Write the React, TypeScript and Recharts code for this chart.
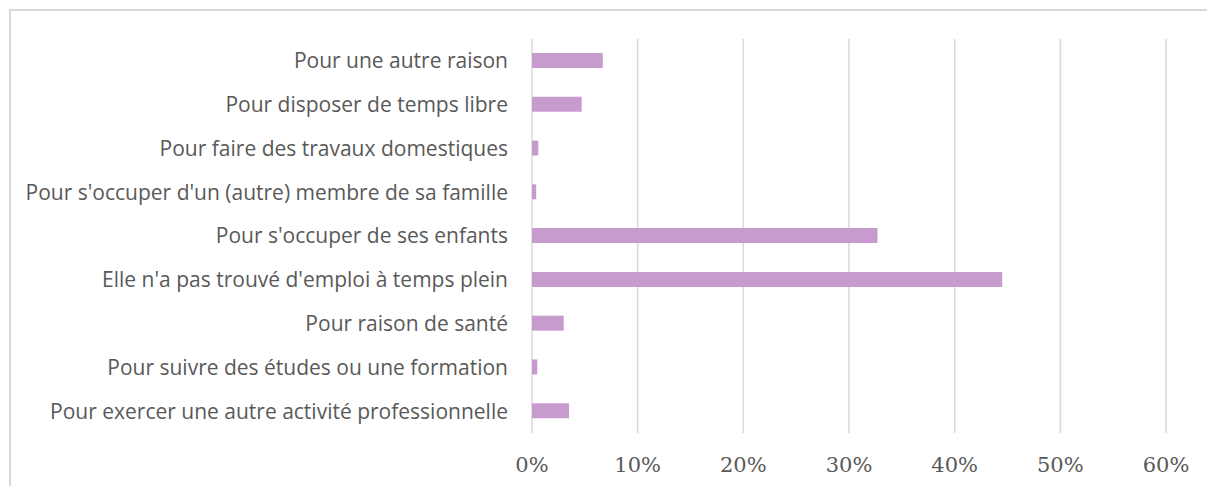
import { BarChart, Bar, XAxis, YAxis, CartesianGrid } from 'recharts'

const categories = [
  'Pour une autre raison',
  'Pour disposer de temps libre',
  'Pour faire des travaux domestiques',
  "Pour s'occuper d'un (autre) membre de sa famille",
  "Pour s'occuper de ses enfants",
  "Elle n'a pas trouvé d'emploi à temps plein",
  'Pour raison de santé',
  'Pour suivre des études ou une formation',
  'Pour exercer une autre activité professionnelle',
]

const shares = [0.067, 0.047, 0.006, 0.004, 0.327, 0.445, 0.03, 0.005, 0.035]

const xTicks = [0, 0.1, 0.2, 0.3, 0.4, 0.5, 0.6]

const data = categories.map((name, i) => ({ name, value: shares[i] }))

export default function App() {
  return (
    <div
      style={{
        position: 'fixed',
        left: 0,
        top: 0,
        width: 1207,
        height: 486,
        background: '#fff',
        overflow: 'hidden',
      }}
    >
      <div
        style={{
          position: 'absolute',
          left: 9,
          top: 9,
          width: 1300,
          height: 600,
          border: '2px solid #d9d9d9',
        }}
      />
      <div style={{ position: 'absolute', left: 0, top: 0 }}>
        <BarChart
          width={1207}
          height={486}
          data={data}
          layout="vertical"
          margin={{ top: 39, right: 41, left: 0, bottom: 0 }}
        >
          <CartesianGrid horizontal={false} stroke="#d9d9d9" strokeWidth={1.5} />
          <XAxis
            type="number"
            domain={[0, 0.6]}
            ticks={xTicks}
            tickFormatter={(v: number) => `${Math.round(v * 100)}%`}
            tick={{ fontSize: 21, fill: '#595959', fontFamily: 'DejaVu Serif' }}
            axisLine={false}
            tickLine={false}
            tickSize={0}
            tickMargin={24}
            height={53}
            interval={0}
          />
          <YAxis
            type="category"
            dataKey="name"
            width={532}
            tick={{ fontSize: 21, fill: '#595959', fontFamily: 'Open Sans' }}
            axisLine={false}
            tickLine={false}
            tickSize={0}
            tickMargin={24}
            interval={0}
          />
          <Bar dataKey="value" fill="#c89bcf" barSize={15} isAnimationActive={false} />
        </BarChart>
      </div>
    </div>
  )
}
